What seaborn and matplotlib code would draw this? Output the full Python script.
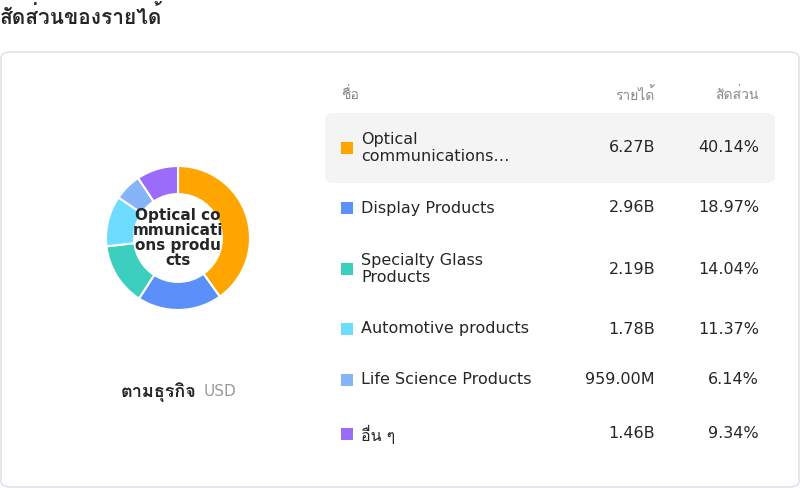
import matplotlib
matplotlib.use("Agg")
import matplotlib.pyplot as plt
import seaborn as sns
from matplotlib.patches import FancyBboxPatch, Rectangle
from matplotlib import font_manager as fm

sns.set_theme(style="white")

thai = []
try:
    from fontTools.ttLib import TTFont
    for f in fm.fontManager.ttflist:
        if f.name in thai:
            continue
        try:
            tt = TTFont(f.fname, fontNumber=0, lazy=True)
            if 0x0E01 in tt.getBestCmap():
                thai.append(f.name)
        except Exception:
            pass
except Exception:
    pass
plt.rcParams['font.family'] = ['DejaVu Sans'] + thai + ['Noto Sans']

names = ["Optical\ncommunications…", "Display Products", "Specialty Glass\nProducts",
         "Automotive products", "Life Science Products", "อื่น ๆ"]
revenue = ["6.27B", "2.96B", "2.19B", "1.78B", "959.00M", "1.46B"]
shares = [40.14, 18.97, 14.04, 11.37, 6.14, 9.34]
colors = ["#FFA500", "#5B8FF9", "#3CCFBF", "#6DDCFF", "#86B4F9", "#9A6CF9"]
row_y = [148, 208, 269, 329, 380, 434]

W, H = 800, 488
fig = plt.figure(figsize=(8, 4.88), dpi=100)
def fy(y): return 1 - y / H
def fx(x): return x / W

fig.text(fx(0), fy(16), "สัดส่วนของรายได้", fontsize=15, fontweight="bold", va="center", ha="left")
fig.patches.append(FancyBboxPatch((fx(1), fy(487)), fx(798), 435 / H,
    boxstyle="round,pad=0,rounding_size=0.012", transform=fig.transFigure,
    fc="white", ec="#DDDDE3", lw=1, zorder=-2))
fig.patches.append(FancyBboxPatch((fx(325), fy(183)), fx(450), 70 / H,
    boxstyle="round,pad=0,rounding_size=0.012", transform=fig.transFigure,
    fc="#F4F4F4", ec="none", zorder=-1))

ax = fig.add_axes([fx(178 - 90), fy(238 + 90), 180 / W, 180 / H])
ax.patch.set_alpha(0)
ax.pie(shares, colors=colors, startangle=90, counterclock=False,
       wedgeprops=dict(width=0.39, edgecolor="white", linewidth=1.5))
ax.set_aspect("equal")
ax.text(0, 0, "Optical co\nmmunicati\nons produ\ncts", ha="center", va="center",
        fontsize=11, fontweight="bold", linespacing=1.0)

fig.text(fx(196), fy(392), "ตามธุรกิจ", fontsize=13, fontweight="bold", ha="right", va="center")
fig.text(fx(204), fy(392), "USD", fontsize=11, color="#999999", ha="left", va="center")

gray = "#888888"
fig.text(fx(341), fy(95), "ชื่อ", fontsize=10, color=gray, va="center")
fig.text(fx(655), fy(95), "รายได้", fontsize=10, color=gray, va="center", ha="right")
fig.text(fx(759), fy(95), "สัดส่วน", fontsize=10, color=gray, va="center", ha="right")

for n, r, s, c, y in zip(names, revenue, shares, colors, row_y):
    fig.patches.append(Rectangle((fx(341), fy(y + 6)), 12 / W, 12 / H,
                                 transform=fig.transFigure, fc=c, ec="none"))
    fig.text(fx(361), fy(y), n, fontsize=11.5, va="center", ha="left", linespacing=1.15)
    fig.text(fx(655), fy(y), r, fontsize=11.5, va="center", ha="right")
    fig.text(fx(759), fy(y), f"{s:.2f}%", fontsize=11.5, va="center", ha="right")

fig.savefig("out.png", dpi=100)
